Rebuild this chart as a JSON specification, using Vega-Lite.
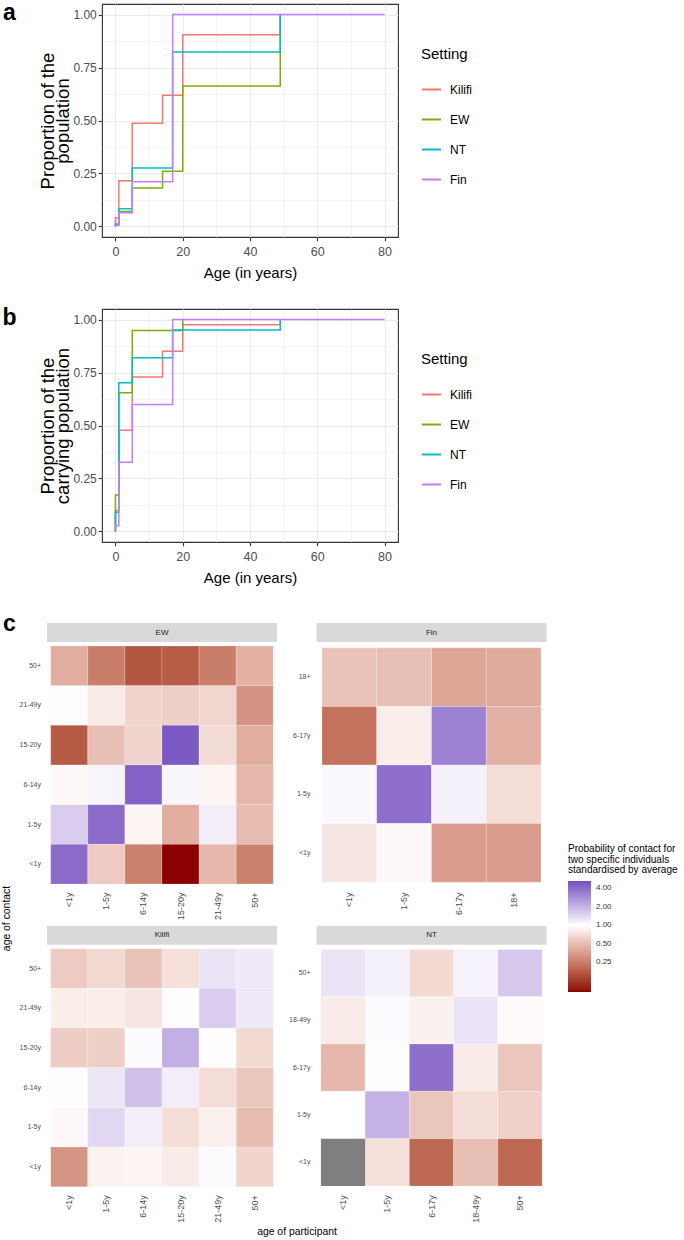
{
 "$schema": "https://vega.github.io/schema/vega-lite/v6.json",
 "padding": {"left": 2, "top": 2, "right": 0, "bottom": 0},
 "background": "white",
 "spacing": 26,
 "config": {"view": {"stroke": null}, "axis": {"labelFont": "Liberation Sans", "titleFont": "Liberation Sans"}},
 "resolve": {"scale": {"color": "independent"}, "legend": {"color": "independent"}},
 "datasets": {
  "pop": [
   {"setting":"Kilifi","i":0,"age":0,"p":0},{"setting":"Kilifi","i":1,"age":0,"p":0.04},{"setting":"Kilifi","i":2,"age":1,"p":0.216},{"setting":"Kilifi","i":3,"age":5,"p":0.487},{"setting":"Kilifi","i":4,"age":14,"p":0.619},{"setting":"Kilifi","i":5,"age":20,"p":0.905},{"setting":"Kilifi","i":6,"age":49,"p":1},
   {"setting":"EW","i":0,"age":0,"p":0},{"setting":"EW","i":1,"age":0,"p":0.01},{"setting":"EW","i":2,"age":1,"p":0.07},{"setting":"EW","i":3,"age":5,"p":0.181},{"setting":"EW","i":4,"age":14,"p":0.26},{"setting":"EW","i":5,"age":20,"p":0.663},{"setting":"EW","i":6,"age":49,"p":1},
   {"setting":"NT","i":0,"age":0,"p":0},{"setting":"NT","i":1,"age":0,"p":0.01},{"setting":"NT","i":2,"age":1,"p":0.083},{"setting":"NT","i":3,"age":5,"p":0.276},{"setting":"NT","i":4,"age":17,"p":0.823},{"setting":"NT","i":5,"age":49,"p":1},
   {"setting":"Fin","i":0,"age":0,"p":0},{"setting":"Fin","i":1,"age":0,"p":0.005},{"setting":"Fin","i":2,"age":1,"p":0.064},{"setting":"Fin","i":3,"age":5,"p":0.211},{"setting":"Fin","i":4,"age":17,"p":1},{"setting":"Fin","i":5,"age":80,"p":1}
  ],
  "carry": [
   {"setting":"Kilifi","i":0,"age":0,"p":0},{"setting":"Kilifi","i":1,"age":0,"p":0.099},{"setting":"Kilifi","i":2,"age":1,"p":0.478},{"setting":"Kilifi","i":3,"age":5,"p":0.729},{"setting":"Kilifi","i":4,"age":14,"p":0.85},{"setting":"Kilifi","i":5,"age":20,"p":0.976},{"setting":"Kilifi","i":6,"age":49,"p":1},
   {"setting":"EW","i":0,"age":0,"p":0},{"setting":"EW","i":1,"age":0,"p":0.172},{"setting":"EW","i":2,"age":1,"p":0.655},{"setting":"EW","i":3,"age":5,"p":0.948},{"setting":"EW","i":4,"age":20,"p":1},
   {"setting":"NT","i":0,"age":0,"p":0},{"setting":"NT","i":1,"age":0,"p":0.091},{"setting":"NT","i":2,"age":1,"p":0.702},{"setting":"NT","i":3,"age":5,"p":0.82},{"setting":"NT","i":4,"age":17,"p":0.951},{"setting":"NT","i":5,"age":49,"p":1},
   {"setting":"Fin","i":0,"age":0,"p":0},{"setting":"Fin","i":1,"age":0,"p":0.027},{"setting":"Fin","i":2,"age":1,"p":0.326},{"setting":"Fin","i":3,"age":5,"p":0.599},{"setting":"Fin","i":4,"age":17,"p":1},{"setting":"Fin","i":5,"age":80,"p":1}
  ],
  "heat": [
   {"s":"EW","c":"50+","p":"<1y","v":0.42},{"s":"EW","c":"50+","p":"1-5y","v":0.25},{"s":"EW","c":"50+","p":"6-14y","v":0.165},{"s":"EW","c":"50+","p":"15-20y","v":0.174},{"s":"EW","c":"50+","p":"21-49y","v":0.25},{"s":"EW","c":"50+","p":"50+","v":0.44},
   {"s":"EW","c":"21-49y","p":"<1y","v":0.97},{"s":"EW","c":"21-49y","p":"1-5y","v":0.82},{"s":"EW","c":"21-49y","p":"6-14y","v":0.64},{"s":"EW","c":"21-49y","p":"15-20y","v":0.61},{"s":"EW","c":"21-49y","p":"21-49y","v":0.65},{"s":"EW","c":"21-49y","p":"50+","v":0.32},
   {"s":"EW","c":"15-20y","p":"<1y","v":0.17},{"s":"EW","c":"15-20y","p":"1-5y","v":0.51},{"s":"EW","c":"15-20y","p":"6-14y","v":0.64},{"s":"EW","c":"15-20y","p":"15-20y","v":4.9},{"s":"EW","c":"15-20y","p":"21-49y","v":0.69},{"s":"EW","c":"15-20y","p":"50+","v":0.42},
   {"s":"EW","c":"6-14y","p":"<1y","v":0.93},{"s":"EW","c":"6-14y","p":"1-5y","v":1.1},{"s":"EW","c":"6-14y","p":"6-14y","v":4.5},{"s":"EW","c":"6-14y","p":"15-20y","v":1.09},{"s":"EW","c":"6-14y","p":"21-49y","v":0.9},{"s":"EW","c":"6-14y","p":"50+","v":0.47},
   {"s":"EW","c":"1-5y","p":"<1y","v":1.6},{"s":"EW","c":"1-5y","p":"1-5y","v":4.1},{"s":"EW","c":"1-5y","p":"6-14y","v":0.9},{"s":"EW","c":"1-5y","p":"15-20y","v":0.42},{"s":"EW","c":"1-5y","p":"21-49y","v":1.18},{"s":"EW","c":"1-5y","p":"50+","v":0.5},
   {"s":"EW","c":"<1y","p":"<1y","v":4.1},{"s":"EW","c":"<1y","p":"1-5y","v":0.58},{"s":"EW","c":"<1y","p":"6-14y","v":0.26},{"s":"EW","c":"<1y","p":"15-20y","v":0.082},{"s":"EW","c":"<1y","p":"21-49y","v":0.47},{"s":"EW","c":"<1y","p":"50+","v":0.26},
   {"s":"Fin","c":"18+","p":"<1y","v":0.53},{"s":"Fin","c":"18+","p":"1-5y","v":0.51},{"s":"Fin","c":"18+","p":"6-17y","v":0.39},{"s":"Fin","c":"18+","p":"18+","v":0.41},
   {"s":"Fin","c":"6-17y","p":"<1y","v":0.22},{"s":"Fin","c":"6-17y","p":"1-5y","v":0.84},{"s":"Fin","c":"6-17y","p":"6-17y","v":3.3},{"s":"Fin","c":"6-17y","p":"18+","v":0.44},
   {"s":"Fin","c":"1-5y","p":"<1y","v":1.07},{"s":"Fin","c":"1-5y","p":"1-5y","v":3.9},{"s":"Fin","c":"1-5y","p":"6-17y","v":1.14},{"s":"Fin","c":"1-5y","p":"18+","v":0.7},
   {"s":"Fin","c":"<1y","p":"<1y","v":0.78},{"s":"Fin","c":"<1y","p":"1-5y","v":0.93},{"s":"Fin","c":"<1y","p":"6-17y","v":0.35},{"s":"Fin","c":"<1y","p":"18+","v":0.35},
   {"s":"Kilifi","c":"50+","p":"<1y","v":0.58},{"s":"Kilifi","c":"50+","p":"1-5y","v":0.67},{"s":"Kilifi","c":"50+","p":"6-14y","v":0.53},{"s":"Kilifi","c":"50+","p":"15-20y","v":0.72},{"s":"Kilifi","c":"50+","p":"21-49y","v":1.28},{"s":"Kilifi","c":"50+","p":"50+","v":1.22},
   {"s":"Kilifi","c":"21-49y","p":"<1y","v":0.84},{"s":"Kilifi","c":"21-49y","p":"1-5y","v":0.84},{"s":"Kilifi","c":"21-49y","p":"6-14y","v":0.76},{"s":"Kilifi","c":"21-49y","p":"15-20y","v":1.03},{"s":"Kilifi","c":"21-49y","p":"21-49y","v":1.59},{"s":"Kilifi","c":"21-49y","p":"50+","v":1.22},
   {"s":"Kilifi","c":"15-20y","p":"<1y","v":0.59},{"s":"Kilifi","c":"15-20y","p":"1-5y","v":0.61},{"s":"Kilifi","c":"15-20y","p":"6-14y","v":1.05},{"s":"Kilifi","c":"15-20y","p":"15-20y","v":2.11},{"s":"Kilifi","c":"15-20y","p":"21-49y","v":0.97},{"s":"Kilifi","c":"15-20y","p":"50+","v":0.67},
   {"s":"Kilifi","c":"6-14y","p":"<1y","v":1.02},{"s":"Kilifi","c":"6-14y","p":"1-5y","v":1.26},{"s":"Kilifi","c":"6-14y","p":"6-14y","v":1.79},{"s":"Kilifi","c":"6-14y","p":"15-20y","v":1.18},{"s":"Kilifi","c":"6-14y","p":"21-49y","v":0.7},{"s":"Kilifi","c":"6-14y","p":"50+","v":0.55},
   {"s":"Kilifi","c":"1-5y","p":"<1y","v":0.93},{"s":"Kilifi","c":"1-5y","p":"1-5y","v":1.44},{"s":"Kilifi","c":"1-5y","p":"6-14y","v":1.18},{"s":"Kilifi","c":"1-5y","p":"15-20y","v":0.7},{"s":"Kilifi","c":"1-5y","p":"21-49y","v":0.86},{"s":"Kilifi","c":"1-5y","p":"50+","v":0.5},
   {"s":"Kilifi","c":"<1y","p":"<1y","v":0.325},{"s":"Kilifi","c":"<1y","p":"1-5y","v":0.88},{"s":"Kilifi","c":"<1y","p":"6-14y","v":0.905},{"s":"Kilifi","c":"<1y","p":"15-20y","v":0.82},{"s":"Kilifi","c":"<1y","p":"21-49y","v":1.05},{"s":"Kilifi","c":"<1y","p":"50+","v":0.64},
   {"s":"NT","c":"50+","p":"<1y","v":1.28},{"s":"NT","c":"50+","p":"1-5y","v":1.14},{"s":"NT","c":"50+","p":"6-17y","v":0.67},{"s":"NT","c":"50+","p":"18-49y","v":1.12},{"s":"NT","c":"50+","p":"50+","v":1.65},
   {"s":"NT","c":"18-49y","p":"<1y","v":0.82},{"s":"NT","c":"18-49y","p":"1-5y","v":1.05},{"s":"NT","c":"18-49y","p":"6-17y","v":0.86},{"s":"NT","c":"18-49y","p":"18-49y","v":1.28},{"s":"NT","c":"18-49y","p":"50+","v":0.95},
   {"s":"NT","c":"6-17y","p":"<1y","v":0.47},{"s":"NT","c":"6-17y","p":"1-5y","v":1.02},{"s":"NT","c":"6-17y","p":"6-17y","v":3.9},{"s":"NT","c":"6-17y","p":"18-49y","v":0.82},{"s":"NT","c":"6-17y","p":"50+","v":0.55},
   {"s":"NT","c":"1-5y","p":"<1y","v":1.0},{"s":"NT","c":"1-5y","p":"1-5y","v":2.04},{"s":"NT","c":"1-5y","p":"6-17y","v":0.55},{"s":"NT","c":"1-5y","p":"18-49y","v":0.7},{"s":"NT","c":"1-5y","p":"50+","v":0.62},
   {"s":"NT","c":"<1y","p":"<1y","v":null},{"s":"NT","c":"<1y","p":"1-5y","v":0.72},{"s":"NT","c":"<1y","p":"6-17y","v":0.197},{"s":"NT","c":"<1y","p":"18-49y","v":0.51},{"s":"NT","c":"<1y","p":"50+","v":0.197}
  ]
 },
 "vconcat": [
  {
   "spacing": 21,
   "resolve": {"scale": {"color": "independent"}, "legend": {"color": "independent"}},
   "hconcat": [
    {"width": 15, "height": 18, "data": {"values": [{"t": "a"}]}, "mark": {"type": "text", "fontSize": 23, "fontWeight": "bold", "font": "Liberation Sans", "color": "#000000"}, "encoding": {"text": {"field": "t"}}},
    {
     "width": 296, "height": 233,
     "view": {"stroke": "#333333", "strokeWidth": 1.1},
     "data": {"name": "pop"},
     "mark": {"type": "line", "interpolate": "step-after", "strokeWidth": 1.5},
     "encoding": {
      "x": {"field": "age", "type": "quantitative", "scale": {"domain": [-4, 84], "nice": false, "zero": false},
       "axis": {"values": [0,10,20,30,40,50,60,70,80], "labelExpr": "datum.value % 20 === 0 ? datum.label : ''", "grid": true, "gridColor": "#EBEBEB", "gridWidth": {"condition": {"test": "datum.value % 20 === 0", "value": 1.1}, "value": 0.55}, "tickColor": "#333333", "tickOpacity": {"condition": {"test": "datum.value % 20 === 0", "value": 1}, "value": 0}, "tickSize": 3.7, "tickWidth": 1.1, "domain": false, "labelFontSize": 12.5, "labelColor": "#4D4D4D", "labelPadding": 5, "labelFlush": false, "labelOverlap": false, "title": "Age (in years)", "titleFontSize": 15, "titleFontWeight": "normal", "titleColor": "#000000", "titlePadding": 7}},
      "y": {"field": "p", "type": "quantitative", "scale": {"domain": [-0.05, 1.05], "nice": false, "zero": false},
       "axis": {"values": [0,0.125,0.25,0.375,0.5,0.625,0.75,0.875,1], "labelExpr": "(datum.value*4) % 1 === 0 ? format(datum.value, '.2f') : ''", "grid": true, "gridColor": "#EBEBEB", "gridWidth": {"condition": {"test": "(datum.value*4) % 1 === 0", "value": 1.1}, "value": 0.55}, "tickColor": "#333333", "tickOpacity": {"condition": {"test": "(datum.value*4) % 1 === 0", "value": 1}, "value": 0}, "tickSize": 3.7, "tickWidth": 1.1, "domain": false, "labelFontSize": 12, "labelColor": "#4D4D4D", "labelPadding": 2, "labelFlush": false, "labelOverlap": false, "title": ["Proportion of the", "population"], "titleFontSize": 18.5, "titleLineHeight": 15, "titleFontWeight": "normal", "titleColor": "#000000", "titlePadding": 0}},
      "color": {"field": "setting", "type": "nominal", "sort": ["Kilifi","EW","NT","Fin"], "scale": {"domain": ["Kilifi","EW","NT","Fin"], "range": ["#F8766D","#7CAE00","#00BFC4","#C77CFF"]},
       "legend": {"title": "Setting", "orient": "none", "legendX": 319, "legendY": 43, "padding": 0, "symbolType": "stroke", "symbolSize": 361, "symbolStrokeWidth": 2, "rowPadding": 13, "titleFontSize": 15, "titleFontWeight": "normal", "titleColor": "#000000", "titleFont": "Liberation Sans", "labelFont": "Liberation Sans", "labelFontSize": 12, "labelColor": "#000000", "titlePadding": 17, "labelOffset": 8}},
      "order": {"field": "i", "type": "quantitative"}
     }
    }
   ]
  },
  {
   "spacing": 21,
   "resolve": {"scale": {"color": "independent"}, "legend": {"color": "independent"}},
   "hconcat": [
    {"width": 15, "height": 18, "data": {"values": [{"t": "b"}]}, "mark": {"type": "text", "fontSize": 23, "fontWeight": "bold", "font": "Liberation Sans", "color": "#000000"}, "encoding": {"text": {"field": "t"}}},
    {
     "width": 296, "height": 233,
     "view": {"stroke": "#333333", "strokeWidth": 1.1},
     "data": {"name": "carry"},
     "mark": {"type": "line", "interpolate": "step-after", "strokeWidth": 1.5},
     "encoding": {
      "x": {"field": "age", "type": "quantitative", "scale": {"domain": [-4, 84], "nice": false, "zero": false},
       "axis": {"values": [0,10,20,30,40,50,60,70,80], "labelExpr": "datum.value % 20 === 0 ? datum.label : ''", "grid": true, "gridColor": "#EBEBEB", "gridWidth": {"condition": {"test": "datum.value % 20 === 0", "value": 1.1}, "value": 0.55}, "tickColor": "#333333", "tickOpacity": {"condition": {"test": "datum.value % 20 === 0", "value": 1}, "value": 0}, "tickSize": 3.7, "tickWidth": 1.1, "domain": false, "labelFontSize": 12.5, "labelColor": "#4D4D4D", "labelPadding": 5, "labelFlush": false, "labelOverlap": false, "title": "Age (in years)", "titleFontSize": 15, "titleFontWeight": "normal", "titleColor": "#000000", "titlePadding": 7}},
      "y": {"field": "p", "type": "quantitative", "scale": {"domain": [-0.05, 1.05], "nice": false, "zero": false},
       "axis": {"values": [0,0.125,0.25,0.375,0.5,0.625,0.75,0.875,1], "labelExpr": "(datum.value*4) % 1 === 0 ? format(datum.value, '.2f') : ''", "grid": true, "gridColor": "#EBEBEB", "gridWidth": {"condition": {"test": "(datum.value*4) % 1 === 0", "value": 1.1}, "value": 0.55}, "tickColor": "#333333", "tickOpacity": {"condition": {"test": "(datum.value*4) % 1 === 0", "value": 1}, "value": 0}, "tickSize": 3.7, "tickWidth": 1.1, "domain": false, "labelFontSize": 12, "labelColor": "#4D4D4D", "labelPadding": 2, "labelFlush": false, "labelOverlap": false, "title": ["Proportion of the", "carrying population"], "titleFontSize": 18.5, "titleLineHeight": 15, "titleFontWeight": "normal", "titleColor": "#000000", "titlePadding": 0}},
      "color": {"field": "setting", "type": "nominal", "sort": ["Kilifi","EW","NT","Fin"], "scale": {"domain": ["Kilifi","EW","NT","Fin"], "range": ["#F8766D","#7CAE00","#00BFC4","#C77CFF"]},
       "legend": {"title": "Setting", "orient": "none", "legendX": 319, "legendY": 43, "padding": 0, "symbolType": "stroke", "symbolSize": 361, "symbolStrokeWidth": 2, "rowPadding": 13, "titleFontSize": 15, "titleFontWeight": "normal", "titleColor": "#000000", "titleFont": "Liberation Sans", "labelFont": "Liberation Sans", "labelFontSize": 12, "labelColor": "#000000", "titlePadding": 17, "labelOffset": 8}},
      "order": {"field": "i", "type": "quantitative"}
     }
    }
   ]
  },
  {
   "spacing": 2,
   "hconcat": [
    {"spacing": 0, "vconcat": [
     {"width": 15, "height": 1, "data": {"values": [{"t": "c"}]}, "mark": {"type": "text", "fontSize": 23, "fontWeight": "bold", "font": "Liberation Sans", "color": "#000000"}, "encoding": {"text": {"field": "t"}}},
     {"width": 10, "height": 565, "data": {"values": [{"t": "age of contact"}]}, "mark": {"type": "text", "angle": 270, "fontSize": 10.4, "font": "Liberation Sans", "color": "#000000"}, "encoding": {"text": {"field": "t"}}}
    ]},
    {"spacing": 2.5, "vconcat": [
     {"columns": 2, "spacing": {"row": 5.7, "column": 11.5}, "concat": [
      {"spacing": 0, "vconcat": [
       {"width": 230, "height": 19, "view": {"fill": "#D9D9D9", "stroke": null}, "data": {"values": [{"s": "EW"}]}, "mark": {"type": "text", "fontSize": 8, "color": "#1A1A1A", "font": "Liberation Sans"}, "encoding": {"text": {"field": "s"}}},
       {"width": 230, "height": 246, "data": {"name": "heat"}, "transform": [{"filter": "datum.s === 'EW'"}],
        "encoding": {
         "x": {"field": "p", "type": "nominal", "sort": ["<1y","1-5y","6-14y","15-20y","21-49y","50+"], "scale": {"paddingInner": 0, "paddingOuter": 0.1}, "axis": {"title": null, "labelAngle": 270, "ticks": false, "domain": false, "grid": false, "labelPadding": 4, "labelFontSize": 9, "labelColor": "#4D4D4D"}},
         "y": {"field": "c", "type": "nominal", "sort": ["50+","21-49y","15-20y","6-14y","1-5y","<1y"], "scale": {"paddingInner": 0, "paddingOuter": 0.1}, "axis": {"title": null, "ticks": false, "domain": false, "grid": false, "labelPadding": 6.5, "labelFontSize": 7, "labelColor": "#4D4D4D"}}
        },
        "layer": [
         {"transform": [{"filter": "isValid(datum.v)"}], "mark": {"type": "rect", "stroke": "#FFFFFF", "strokeWidth": 0.4, "strokeOpacity": 0.5},
          "encoding": {"color": {"field": "v", "type": "quantitative", "scale": {"type": "log", "domain": [0.082, 1, 5.28], "range": ["#8B0000", "#FFFFFF", "#7352C0"], "interpolate": "lab"},
           "legend": {"title": ["Probability of contact for", "two specific individuals", "standardised by average"], "orient": "none", "legendX": 566, "legendY": 221, "padding": 0, "direction": "vertical", "gradientLength": 111, "gradientThickness": 23, "values": [0.25, 0.5, 1, 2, 4], "format": ".2f", "labelFontSize": 8, "labelColor": "#333333", "labelFont": "Liberation Sans", "titleFont": "Liberation Sans", "titleFontSize": 10, "titleFontWeight": "normal", "titleColor": "#000000", "titleLineHeight": 10.5, "titlePadding": 6, "labelOffset": 5, "gradientStrokeWidth": 0, "titleLimit": 300}}}},
         {"transform": [{"filter": "!isValid(datum.v)"}], "mark": {"type": "rect", "color": "#7F7F7F"}}
        ]}
      ]},
      {"spacing": 0, "vconcat": [
       {"width": 230, "height": 19, "view": {"fill": "#D9D9D9", "stroke": null}, "data": {"values": [{"s": "Fin"}]}, "mark": {"type": "text", "fontSize": 8, "color": "#1A1A1A", "font": "Liberation Sans"}, "encoding": {"text": {"field": "s"}}},
       {"width": 230, "height": 246, "data": {"name": "heat"}, "transform": [{"filter": "datum.s === 'Fin'"}],
        "encoding": {
         "x": {"field": "p", "type": "nominal", "sort": ["<1y","1-5y","6-17y","18+"], "scale": {"paddingInner": 0, "paddingOuter": 0.1}, "axis": {"title": null, "labelAngle": 270, "ticks": false, "domain": false, "grid": false, "labelPadding": 4, "labelFontSize": 9, "labelColor": "#4D4D4D"}},
         "y": {"field": "c", "type": "nominal", "sort": ["18+","6-17y","1-5y","<1y"], "scale": {"paddingInner": 0, "paddingOuter": 0.1}, "axis": {"title": null, "ticks": false, "domain": false, "grid": false, "labelPadding": 6.5, "labelFontSize": 7, "labelColor": "#4D4D4D"}}
        },
        "layer": [
         {"transform": [{"filter": "isValid(datum.v)"}], "mark": {"type": "rect", "stroke": "#FFFFFF", "strokeWidth": 0.4, "strokeOpacity": 0.5},
          "encoding": {"color": {"field": "v", "type": "quantitative", "scale": {"type": "log", "domain": [0.082, 1, 5.28], "range": ["#8B0000", "#FFFFFF", "#7352C0"], "interpolate": "lab"},
           "legend": {"title": ["Probability of contact for", "two specific individuals", "standardised by average"], "orient": "none", "legendX": 566, "legendY": 221, "padding": 0, "direction": "vertical", "gradientLength": 111, "gradientThickness": 23, "values": [0.25, 0.5, 1, 2, 4], "format": ".2f", "labelFontSize": 8, "labelColor": "#333333", "labelFont": "Liberation Sans", "titleFont": "Liberation Sans", "titleFontSize": 10, "titleFontWeight": "normal", "titleColor": "#000000", "titleLineHeight": 10.5, "titlePadding": 6, "labelOffset": 5, "gradientStrokeWidth": 0, "titleLimit": 300}}}},
         {"transform": [{"filter": "!isValid(datum.v)"}], "mark": {"type": "rect", "color": "#7F7F7F"}}
        ]}
      ]},
      {"spacing": 0, "vconcat": [
       {"width": 230, "height": 19, "view": {"fill": "#D9D9D9", "stroke": null}, "data": {"values": [{"s": "Kilifi"}]}, "mark": {"type": "text", "fontSize": 8, "color": "#1A1A1A", "font": "Liberation Sans"}, "encoding": {"text": {"field": "s"}}},
       {"width": 230, "height": 246, "data": {"name": "heat"}, "transform": [{"filter": "datum.s === 'Kilifi'"}],
        "encoding": {
         "x": {"field": "p", "type": "nominal", "sort": ["<1y","1-5y","6-14y","15-20y","21-49y","50+"], "scale": {"paddingInner": 0, "paddingOuter": 0.1}, "axis": {"title": null, "labelAngle": 270, "ticks": false, "domain": false, "grid": false, "labelPadding": 4, "labelFontSize": 9, "labelColor": "#4D4D4D"}},
         "y": {"field": "c", "type": "nominal", "sort": ["50+","21-49y","15-20y","6-14y","1-5y","<1y"], "scale": {"paddingInner": 0, "paddingOuter": 0.1}, "axis": {"title": null, "ticks": false, "domain": false, "grid": false, "labelPadding": 6.5, "labelFontSize": 7, "labelColor": "#4D4D4D"}}
        },
        "layer": [
         {"transform": [{"filter": "isValid(datum.v)"}], "mark": {"type": "rect", "stroke": "#FFFFFF", "strokeWidth": 0.4, "strokeOpacity": 0.5},
          "encoding": {"color": {"field": "v", "type": "quantitative", "scale": {"type": "log", "domain": [0.082, 1, 5.28], "range": ["#8B0000", "#FFFFFF", "#7352C0"], "interpolate": "lab"},
           "legend": {"title": ["Probability of contact for", "two specific individuals", "standardised by average"], "orient": "none", "legendX": 566, "legendY": 221, "padding": 0, "direction": "vertical", "gradientLength": 111, "gradientThickness": 23, "values": [0.25, 0.5, 1, 2, 4], "format": ".2f", "labelFontSize": 8, "labelColor": "#333333", "labelFont": "Liberation Sans", "titleFont": "Liberation Sans", "titleFontSize": 10, "titleFontWeight": "normal", "titleColor": "#000000", "titleLineHeight": 10.5, "titlePadding": 6, "labelOffset": 5, "gradientStrokeWidth": 0, "titleLimit": 300}}}},
         {"transform": [{"filter": "!isValid(datum.v)"}], "mark": {"type": "rect", "color": "#7F7F7F"}}
        ]}
      ]},
      {"spacing": 0, "vconcat": [
       {"width": 230, "height": 19, "view": {"fill": "#D9D9D9", "stroke": null}, "data": {"values": [{"s": "NT"}]}, "mark": {"type": "text", "fontSize": 8, "color": "#1A1A1A", "font": "Liberation Sans"}, "encoding": {"text": {"field": "s"}}},
       {"width": 230, "height": 246, "data": {"name": "heat"}, "transform": [{"filter": "datum.s === 'NT'"}],
        "encoding": {
         "x": {"field": "p", "type": "nominal", "sort": ["<1y","1-5y","6-17y","18-49y","50+"], "scale": {"paddingInner": 0, "paddingOuter": 0.1}, "axis": {"title": null, "labelAngle": 270, "ticks": false, "domain": false, "grid": false, "labelPadding": 4, "labelFontSize": 9, "labelColor": "#4D4D4D"}},
         "y": {"field": "c", "type": "nominal", "sort": ["50+","18-49y","6-17y","1-5y","<1y"], "scale": {"paddingInner": 0, "paddingOuter": 0.1}, "axis": {"title": null, "ticks": false, "domain": false, "grid": false, "labelPadding": 6.5, "labelFontSize": 7, "labelColor": "#4D4D4D"}}
        },
        "layer": [
         {"transform": [{"filter": "isValid(datum.v)"}], "mark": {"type": "rect", "stroke": "#FFFFFF", "strokeWidth": 0.4, "strokeOpacity": 0.5},
          "encoding": {"color": {"field": "v", "type": "quantitative", "scale": {"type": "log", "domain": [0.082, 1, 5.28], "range": ["#8B0000", "#FFFFFF", "#7352C0"], "interpolate": "lab"},
           "legend": {"title": ["Probability of contact for", "two specific individuals", "standardised by average"], "orient": "none", "legendX": 566, "legendY": 221, "padding": 0, "direction": "vertical", "gradientLength": 111, "gradientThickness": 23, "values": [0.25, 0.5, 1, 2, 4], "format": ".2f", "labelFontSize": 8, "labelColor": "#333333", "labelFont": "Liberation Sans", "titleFont": "Liberation Sans", "titleFontSize": 10, "titleFontWeight": "normal", "titleColor": "#000000", "titleLineHeight": 10.5, "titlePadding": 6, "labelOffset": 5, "gradientStrokeWidth": 0, "titleLimit": 300}}}},
         {"transform": [{"filter": "!isValid(datum.v)"}], "mark": {"type": "rect", "color": "#7F7F7F"}}
        ]}
      ]}
     ]},
     {"width": 500, "height": 12, "data": {"values": [{"t": "age of participant"}]}, "mark": {"type": "text", "fontSize": 10.4, "color": "#000000", "font": "Liberation Sans"}, "encoding": {"text": {"field": "t"}}}
    ]}
   ]
  }
 ]
}
